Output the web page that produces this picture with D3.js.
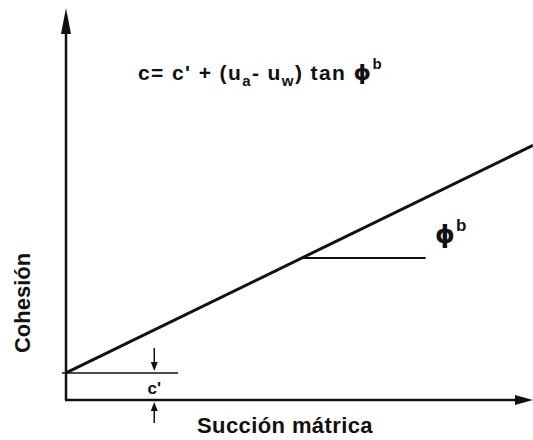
<!DOCTYPE html>
<html>
<head>
<meta charset="utf-8">
<script src="https://cdn.jsdelivr.net/npm/d3@7"></script>
<style>
  html, body { margin: 0; padding: 0; background: #fff; }
  svg { display: block; }
  text { font-family: "Liberation Sans", Arial, sans-serif; font-weight: bold; fill: #111; }
  .phi { font-family: "DejaVu Sans", sans-serif; }
</style>
</head>
<body>
<svg id="chart" width="533" height="440"></svg>
<script>
// Failure envelope: cohesion grows linearly with matric suction
const suction = [0, 10];
const cohesion = [1, 9.42];
const cPrime = [1];          // intercept c'
const phiRefX = [5.05, 7.7]; // horizontal reference for the angle φb

const svg = d3.select("#chart");
const x = d3.scaleLinear().domain([0, 10]).range([66, 533]);
const y = d3.scaleLinear().domain([0, 14.5]).range([400, 8]);

const ink = "#111";

// Axes with arrowheads
svg.append("line").attr("x1", x(0)).attr("y1", y(0)).attr("x2", x(0)).attr("y2", y(14.5) + 20)
  .attr("stroke", ink).attr("stroke-width", 2.5);
svg.append("path")
  .attr("d", `M${x(0)},${y(14.5)} L${x(0) + 5},${y(14.5) + 26} L${x(0) - 5},${y(14.5) + 26} Z`)
  .attr("fill", ink);
svg.append("line").attr("x1", x(0) - 1).attr("y1", y(0)).attr("x2", x(10) - 16).attr("y2", y(0))
  .attr("stroke", ink).attr("stroke-width", 2.5);
svg.append("path")
  .attr("d", `M${x(10)},${y(0)} L${x(10) - 18},${y(0) - 5} L${x(10) - 18},${y(0) + 5} Z`)
  .attr("fill", ink);

// Envelope line
const line = d3.line().x((d, i) => x(suction[i])).y(d => y(d));
svg.append("path").datum(cohesion).attr("d", line)
  .attr("fill", "none").attr("stroke", ink).attr("stroke-width", 3);

// c' reference line and dimension arrows
svg.append("line").attr("x1", x(0) - 4).attr("x2", x(2.4)).attr("y1", y(cPrime[0])).attr("y2", y(cPrime[0]))
  .attr("stroke", ink).attr("stroke-width", 1.5);
const ax = x(1.89);
svg.append("line").attr("x1", ax).attr("x2", ax).attr("y1", y(cPrime[0]) - 25).attr("y2", y(cPrime[0]) - 8)
  .attr("stroke", ink).attr("stroke-width", 1.5);
svg.append("path").attr("d", `M${ax},${y(cPrime[0]) - 2} L${ax - 3.5},${y(cPrime[0]) - 11} L${ax + 3.5},${y(cPrime[0]) - 11} Z`).attr("fill", ink);
svg.append("line").attr("x1", ax).attr("x2", ax).attr("y1", y(0) + 8).attr("y2", y(0) + 23)
  .attr("stroke", ink).attr("stroke-width", 1.5);
svg.append("path").attr("d", `M${ax},${y(0) + 2} L${ax - 3.5},${y(0) + 11} L${ax + 3.5},${y(0) + 11} Z`).attr("fill", ink);
svg.append("text").attr("x", ax).attr("y", y(0) - 6).attr("text-anchor", "middle")
  .attr("font-size", 17).text("c'");

// φb reference line
const yPhi = y(cohesion[0] + (cohesion[1] - cohesion[0]) * phiRefX[0] / 10);
svg.append("line").attr("x1", x(phiRefX[0])).attr("x2", x(phiRefX[1])).attr("y1", yPhi).attr("y2", yPhi)
  .attr("stroke", ink).attr("stroke-width", 1.8);
const phiLab = svg.append("text").attr("x", 435).attr("y", 243).attr("font-size", 25);
phiLab.append("tspan").attr("class", "phi").text("ϕ");
phiLab.append("tspan").attr("font-size", 17).attr("dy", -12).attr("dx", 1).text("b");

// Equation
const eq = svg.append("text").attr("x", 138).attr("y", 80).attr("font-size", 21)
  .attr("letter-spacing", 1.4);
eq.append("tspan").text("c= c' + (u");
eq.append("tspan").attr("font-size", 15).attr("dy", 6).text("a");
eq.append("tspan").attr("dy", -6).text("- u");
eq.append("tspan").attr("font-size", 15).attr("dy", 6).text("w");
eq.append("tspan").attr("dy", -6).text(") tan ");
eq.append("tspan").attr("class", "phi").attr("font-size", 22).text("ϕ");
eq.append("tspan").attr("font-size", 15).attr("dy", -11).text("b");

// Axis titles
svg.append("text").attr("x", 285).attr("y", 433).attr("text-anchor", "middle")
  .attr("font-size", 22).attr("letter-spacing", 0.4).text("Succión mátrica");
svg.append("text").attr("transform", "translate(30,303) rotate(-90)").attr("text-anchor", "middle")
  .attr("font-size", 22).text("Cohesión");
</script>
</body>
</html>
